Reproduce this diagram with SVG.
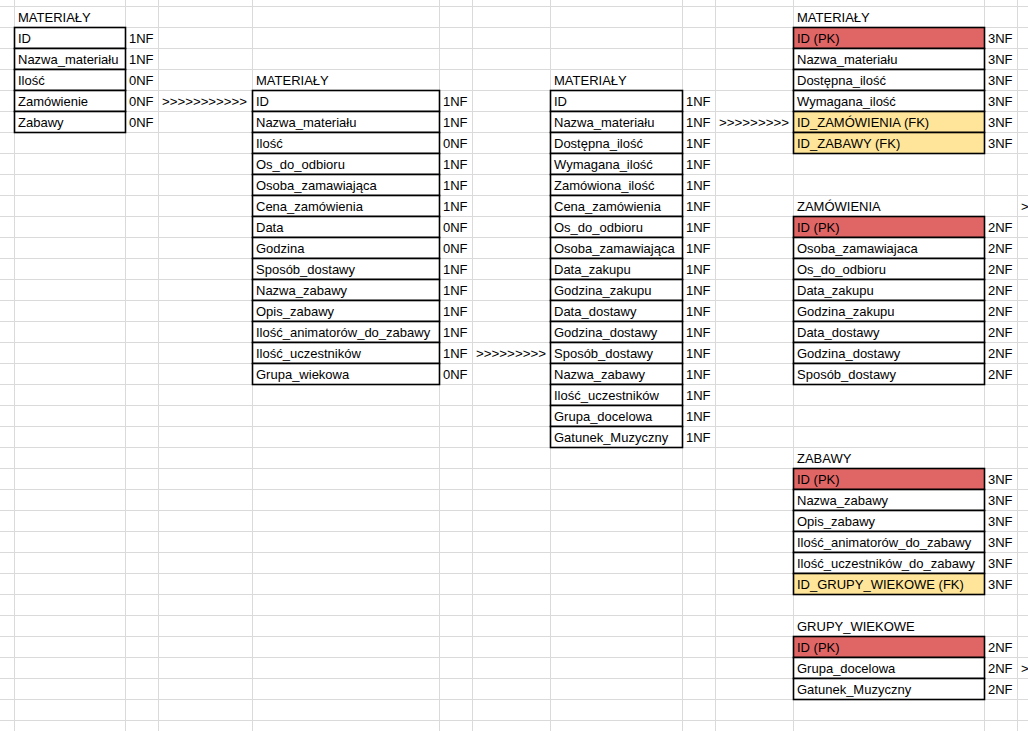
<svg xmlns="http://www.w3.org/2000/svg" width="1028" height="731" viewBox="0 0 1028 731">
  <style>
    .grid line { stroke: #dadada; stroke-width: 1; }
    text { font-family: "Liberation Sans", Arial, sans-serif; font-size: 13px; fill: #000; }
    .cell { fill: #ffffff; stroke: #000; stroke-width: 1.6; }
    .pk { fill: #e06666; stroke: #000; stroke-width: 1.6; }
    .fk { fill: #ffe599; stroke: #000; stroke-width: 1.6; }
    .arrow { letter-spacing: 0; }
  </style>

  <rect x="0" y="0" width="1028" height="731" fill="#ffffff"/>

  <!-- sheet gridlines: rows every 21px, fixed column edges -->
  <g class="grid">
    <line x1="0" y1="6.5" x2="1028" y2="6.5"/>
    <line x1="0" y1="27.5" x2="1028" y2="27.5"/>
    <line x1="0" y1="48.5" x2="1028" y2="48.5"/>
    <line x1="0" y1="69.5" x2="1028" y2="69.5"/>
    <line x1="0" y1="90.5" x2="1028" y2="90.5"/>
    <line x1="0" y1="111.5" x2="1028" y2="111.5"/>
    <line x1="0" y1="132.5" x2="1028" y2="132.5"/>
    <line x1="0" y1="153.5" x2="1028" y2="153.5"/>
    <line x1="0" y1="174.5" x2="1028" y2="174.5"/>
    <line x1="0" y1="195.5" x2="1028" y2="195.5"/>
    <line x1="0" y1="216.5" x2="1028" y2="216.5"/>
    <line x1="0" y1="237.5" x2="1028" y2="237.5"/>
    <line x1="0" y1="258.5" x2="1028" y2="258.5"/>
    <line x1="0" y1="279.5" x2="1028" y2="279.5"/>
    <line x1="0" y1="300.5" x2="1028" y2="300.5"/>
    <line x1="0" y1="321.5" x2="1028" y2="321.5"/>
    <line x1="0" y1="342.5" x2="1028" y2="342.5"/>
    <line x1="0" y1="363.5" x2="1028" y2="363.5"/>
    <line x1="0" y1="384.5" x2="1028" y2="384.5"/>
    <line x1="0" y1="405.5" x2="1028" y2="405.5"/>
    <line x1="0" y1="426.5" x2="1028" y2="426.5"/>
    <line x1="0" y1="447.5" x2="1028" y2="447.5"/>
    <line x1="0" y1="468.5" x2="1028" y2="468.5"/>
    <line x1="0" y1="489.5" x2="1028" y2="489.5"/>
    <line x1="0" y1="510.5" x2="1028" y2="510.5"/>
    <line x1="0" y1="531.5" x2="1028" y2="531.5"/>
    <line x1="0" y1="552.5" x2="1028" y2="552.5"/>
    <line x1="0" y1="573.5" x2="1028" y2="573.5"/>
    <line x1="0" y1="594.5" x2="1028" y2="594.5"/>
    <line x1="0" y1="615.5" x2="1028" y2="615.5"/>
    <line x1="0" y1="636.5" x2="1028" y2="636.5"/>
    <line x1="0" y1="657.5" x2="1028" y2="657.5"/>
    <line x1="0" y1="678.5" x2="1028" y2="678.5"/>
    <line x1="0" y1="699.5" x2="1028" y2="699.5"/>
    <line x1="0" y1="720.5" x2="1028" y2="720.5"/>
    <line x1="14.5" y1="0" x2="14.5" y2="731"/>
    <line x1="125.5" y1="0" x2="125.5" y2="731"/>
    <line x1="158.5" y1="0" x2="158.5" y2="731"/>
    <line x1="252.5" y1="0" x2="252.5" y2="731"/>
    <line x1="439.5" y1="0" x2="439.5" y2="731"/>
    <line x1="472.5" y1="0" x2="472.5" y2="731"/>
    <line x1="550.5" y1="0" x2="550.5" y2="731"/>
    <line x1="682.5" y1="0" x2="682.5" y2="731"/>
    <line x1="715.5" y1="0" x2="715.5" y2="731"/>
    <line x1="793.5" y1="0" x2="793.5" y2="731"/>
    <line x1="984.5" y1="0" x2="984.5" y2="731"/>
    <line x1="1017.5" y1="0" x2="1017.5" y2="731"/>
  </g>

  <!-- stage 0: raw MATERIAŁY -->
  <g id="materialy-0nf">
    <text x="18" y="22">MATERIAŁY</text>
    <rect class="cell" x="14.5" y="27.5" width="111" height="21"/>
    <rect class="cell" x="14.5" y="48.5" width="111" height="21"/>
    <rect class="cell" x="14.5" y="69.5" width="111" height="21"/>
    <rect class="cell" x="14.5" y="90.5" width="111" height="21"/>
    <rect class="cell" x="14.5" y="111.5" width="111" height="21"/>
    <text x="18" y="43">ID</text><text x="129" y="43">1NF</text>
    <text x="18" y="64">Nazwa_materiału</text><text x="129" y="64">1NF</text>
    <text x="18" y="85">Ilość</text><text x="129" y="85">0NF</text>
    <text x="18" y="106">Zamówienie</text><text x="129" y="106">0NF</text>
    <text x="18" y="127">Zabawy</text><text x="129" y="127">0NF</text>
  </g>

  <!-- stage 1 -->
  <g id="materialy-stage1">
    <text x="256" y="85">MATERIAŁY</text>
    <rect class="cell" x="252.5" y="90.5" width="187" height="21"/>
    <rect class="cell" x="252.5" y="111.5" width="187" height="21"/>
    <rect class="cell" x="252.5" y="132.5" width="187" height="21"/>
    <rect class="cell" x="252.5" y="153.5" width="187" height="21"/>
    <rect class="cell" x="252.5" y="174.5" width="187" height="21"/>
    <rect class="cell" x="252.5" y="195.5" width="187" height="21"/>
    <rect class="cell" x="252.5" y="216.5" width="187" height="21"/>
    <rect class="cell" x="252.5" y="237.5" width="187" height="21"/>
    <rect class="cell" x="252.5" y="258.5" width="187" height="21"/>
    <rect class="cell" x="252.5" y="279.5" width="187" height="21"/>
    <rect class="cell" x="252.5" y="300.5" width="187" height="21"/>
    <rect class="cell" x="252.5" y="321.5" width="187" height="21"/>
    <rect class="cell" x="252.5" y="342.5" width="187" height="21"/>
    <rect class="cell" x="252.5" y="363.5" width="187" height="21"/>
    <text x="256" y="106">ID</text><text x="443" y="106">1NF</text>
    <text x="256" y="127">Nazwa_materiału</text><text x="443" y="127">1NF</text>
    <text x="256" y="148">Ilość</text><text x="443" y="148">0NF</text>
    <text x="256" y="169">Os_do_odbioru</text><text x="443" y="169">1NF</text>
    <text x="256" y="190">Osoba_zamawiająca</text><text x="443" y="190">1NF</text>
    <text x="256" y="211">Cena_zamówienia</text><text x="443" y="211">1NF</text>
    <text x="256" y="232">Data</text><text x="443" y="232">0NF</text>
    <text x="256" y="253">Godzina</text><text x="443" y="253">0NF</text>
    <text x="256" y="274">Sposób_dostawy</text><text x="443" y="274">1NF</text>
    <text x="256" y="295">Nazwa_zabawy</text><text x="443" y="295">1NF</text>
    <text x="256" y="316">Opis_zabawy</text><text x="443" y="316">1NF</text>
    <text x="256" y="337">Ilość_animatorów_do_zabawy</text><text x="443" y="337">1NF</text>
    <text x="256" y="358">Ilość_uczestników</text><text x="443" y="358">1NF</text>
    <text x="256" y="379">Grupa_wiekowa</text><text x="443" y="379">0NF</text>
  </g>

  <!-- stage 2: 1NF -->
  <g id="materialy-1nf">
    <text x="554" y="85">MATERIAŁY</text>
    <rect class="cell" x="550.5" y="90.5" width="132" height="21"/>
    <rect class="cell" x="550.5" y="111.5" width="132" height="21"/>
    <rect class="cell" x="550.5" y="132.5" width="132" height="21"/>
    <rect class="cell" x="550.5" y="153.5" width="132" height="21"/>
    <rect class="cell" x="550.5" y="174.5" width="132" height="21"/>
    <rect class="cell" x="550.5" y="195.5" width="132" height="21"/>
    <rect class="cell" x="550.5" y="216.5" width="132" height="21"/>
    <rect class="cell" x="550.5" y="237.5" width="132" height="21"/>
    <rect class="cell" x="550.5" y="258.5" width="132" height="21"/>
    <rect class="cell" x="550.5" y="279.5" width="132" height="21"/>
    <rect class="cell" x="550.5" y="300.5" width="132" height="21"/>
    <rect class="cell" x="550.5" y="321.5" width="132" height="21"/>
    <rect class="cell" x="550.5" y="342.5" width="132" height="21"/>
    <rect class="cell" x="550.5" y="363.5" width="132" height="21"/>
    <rect class="cell" x="550.5" y="384.5" width="132" height="21"/>
    <rect class="cell" x="550.5" y="405.5" width="132" height="21"/>
    <rect class="cell" x="550.5" y="426.5" width="132" height="21"/>
    <text x="554" y="106">ID</text><text x="686" y="106">1NF</text>
    <text x="554" y="127">Nazwa_materiału</text><text x="686" y="127">1NF</text>
    <text x="554" y="148">Dostępna_ilość</text><text x="686" y="148">1NF</text>
    <text x="554" y="169">Wymagana_ilość</text><text x="686" y="169">1NF</text>
    <text x="554" y="190">Zamówiona_ilość</text><text x="686" y="190">1NF</text>
    <text x="554" y="211">Cena_zamówienia</text><text x="686" y="211">1NF</text>
    <text x="554" y="232">Os_do_odbioru</text><text x="686" y="232">1NF</text>
    <text x="554" y="253">Osoba_zamawiająca</text><text x="686" y="253">1NF</text>
    <text x="554" y="274">Data_zakupu</text><text x="686" y="274">1NF</text>
    <text x="554" y="295">Godzina_zakupu</text><text x="686" y="295">1NF</text>
    <text x="554" y="316">Data_dostawy</text><text x="686" y="316">1NF</text>
    <text x="554" y="337">Godzina_dostawy</text><text x="686" y="337">1NF</text>
    <text x="554" y="358">Sposób_dostawy</text><text x="686" y="358">1NF</text>
    <text x="554" y="379">Nazwa_zabawy</text><text x="686" y="379">1NF</text>
    <text x="554" y="400">Ilość_uczestników</text><text x="686" y="400">1NF</text>
    <text x="554" y="421">Grupa_docelowa</text><text x="686" y="421">1NF</text>
    <text x="554" y="442">Gatunek_Muzyczny</text><text x="686" y="442">1NF</text>
  </g>

  <!-- final: MATERIAŁY -->
  <g id="materialy-3nf">
    <text x="797" y="22">MATERIAŁY</text>
    <rect class="pk" x="793.5" y="27.5" width="191" height="21"/>
    <rect class="cell" x="793.5" y="48.5" width="191" height="21"/>
    <rect class="cell" x="793.5" y="69.5" width="191" height="21"/>
    <rect class="cell" x="793.5" y="90.5" width="191" height="21"/>
    <rect class="fk" x="793.5" y="111.5" width="191" height="21"/>
    <rect class="fk" x="793.5" y="132.5" width="191" height="21"/>
    <text x="797" y="43">ID (PK)</text><text x="988" y="43">3NF</text>
    <text x="797" y="64">Nazwa_materiału</text><text x="988" y="64">3NF</text>
    <text x="797" y="85">Dostępna_ilość</text><text x="988" y="85">3NF</text>
    <text x="797" y="106">Wymagana_ilość</text><text x="988" y="106">3NF</text>
    <text x="797" y="127">ID_ZAMÓWIENIA (FK)</text><text x="988" y="127">3NF</text>
    <text x="797" y="148">ID_ZABAWY (FK)</text><text x="988" y="148">3NF</text>
  </g>

  <!-- final: ZAMÓWIENIA -->
  <g id="zamowienia">
    <text x="797" y="211">ZAMÓWIENIA</text>
    <rect class="pk" x="793.5" y="216.5" width="191" height="21"/>
    <rect class="cell" x="793.5" y="237.5" width="191" height="21"/>
    <rect class="cell" x="793.5" y="258.5" width="191" height="21"/>
    <rect class="cell" x="793.5" y="279.5" width="191" height="21"/>
    <rect class="cell" x="793.5" y="300.5" width="191" height="21"/>
    <rect class="cell" x="793.5" y="321.5" width="191" height="21"/>
    <rect class="cell" x="793.5" y="342.5" width="191" height="21"/>
    <rect class="cell" x="793.5" y="363.5" width="191" height="21"/>
    <text x="797" y="232">ID (PK)</text><text x="988" y="232">2NF</text>
    <text x="797" y="253">Osoba_zamawiajaca</text><text x="988" y="253">2NF</text>
    <text x="797" y="274">Os_do_odbioru</text><text x="988" y="274">2NF</text>
    <text x="797" y="295">Data_zakupu</text><text x="988" y="295">2NF</text>
    <text x="797" y="316">Godzina_zakupu</text><text x="988" y="316">2NF</text>
    <text x="797" y="337">Data_dostawy</text><text x="988" y="337">2NF</text>
    <text x="797" y="358">Godzina_dostawy</text><text x="988" y="358">2NF</text>
    <text x="797" y="379">Sposób_dostawy</text><text x="988" y="379">2NF</text>
  </g>

  <!-- final: ZABAWY -->
  <g id="zabawy">
    <text x="797" y="463">ZABAWY</text>
    <rect class="pk" x="793.5" y="468.5" width="191" height="21"/>
    <rect class="cell" x="793.5" y="489.5" width="191" height="21"/>
    <rect class="cell" x="793.5" y="510.5" width="191" height="21"/>
    <rect class="cell" x="793.5" y="531.5" width="191" height="21"/>
    <rect class="cell" x="793.5" y="552.5" width="191" height="21"/>
    <rect class="fk" x="793.5" y="573.5" width="191" height="21"/>
    <text x="797" y="484">ID (PK)</text><text x="988" y="484">3NF</text>
    <text x="797" y="505">Nazwa_zabawy</text><text x="988" y="505">3NF</text>
    <text x="797" y="526">Opis_zabawy</text><text x="988" y="526">3NF</text>
    <text x="797" y="547">Ilość_animatorów_do_zabawy</text><text x="988" y="547">3NF</text>
    <text x="797" y="568">Ilość_uczestników_do_zabawy</text><text x="988" y="568">3NF</text>
    <text x="797" y="589">ID_GRUPY_WIEKOWE (FK)</text><text x="988" y="589">3NF</text>
  </g>

  <!-- final: GRUPY_WIEKOWE -->
  <g id="grupy-wiekowe">
    <text x="797" y="631">GRUPY_WIEKOWE</text>
    <rect class="pk" x="793.5" y="636.5" width="191" height="21"/>
    <rect class="cell" x="793.5" y="657.5" width="191" height="21"/>
    <rect class="cell" x="793.5" y="678.5" width="191" height="21"/>
    <text x="797" y="652">ID (PK)</text><text x="988" y="652">2NF</text>
    <text x="797" y="673">Grupa_docelowa</text><text x="988" y="673">2NF</text>
    <text x="797" y="694">Gatunek_Muzyczny</text><text x="988" y="694">2NF</text>
  </g>

  <!-- step markers between the stages -->
  <g id="connectors">
    <text class="arrow" x="162" y="106" textLength="85" lengthAdjust="spacingAndGlyphs">&gt;&gt;&gt;&gt;&gt;&gt;&gt;&gt;&gt;&gt;&gt;</text>
    <text class="arrow" x="476" y="358" textLength="70" lengthAdjust="spacingAndGlyphs">&gt;&gt;&gt;&gt;&gt;&gt;&gt;&gt;&gt;</text>
    <text class="arrow" x="719" y="127" textLength="70" lengthAdjust="spacingAndGlyphs">&gt;&gt;&gt;&gt;&gt;&gt;&gt;&gt;&gt;</text>
    <text class="arrow" x="1021" y="211">&gt;</text>
    <text class="arrow" x="1021" y="673">&gt;</text>
  </g>
</svg>
